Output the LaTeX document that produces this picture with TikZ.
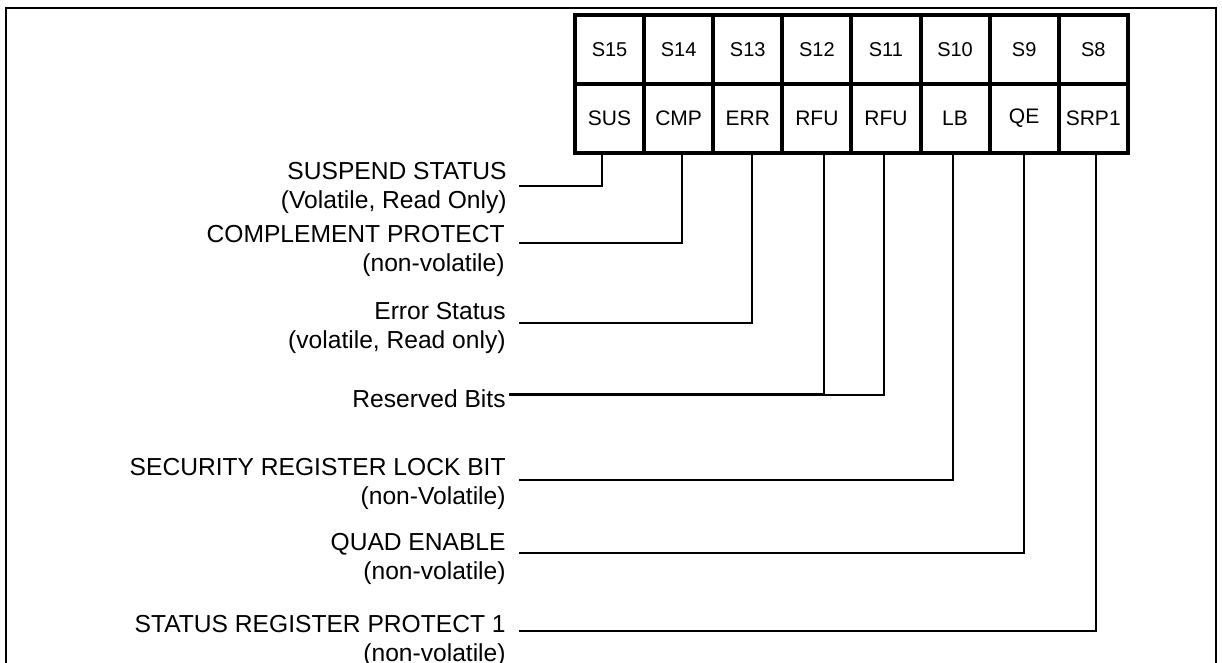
\documentclass[tikz,border=0pt]{standalone}
\usepackage{fontspec}
\setmainfont{Liberation Sans}
\begin{document}
\begin{tikzpicture}[x=0.5pt,y=0.5pt,yscale=-1,xscale=1,
  bitcell/.style={draw,line width=2pt,outer sep=0pt,inner sep=0pt,anchor=north west,minimum width=34.55pt,minimum height=34.5pt},
  bitnum/.style={bitcell,font=\fontsize{10}{12}\selectfont},
  bitname/.style={bitcell,font=\fontsize{10.5}{13}\selectfont},
  desc/.style={anchor=base east,inner sep=0pt,align=right,font=\fontsize{12.3}{14.5}\selectfont},
  link/.style={line width=1pt}]
\useasboundingbox (0,0) rectangle (1222,663);

%Shape: Rectangle [id:frame]
\draw [line width=0.75pt] (6,8) rectangle (1216,720) ;

% Bit numbers
\node[bitnum] (s15) at (575,15) {S15};
\node[bitnum] (s14) at (644.1,15) {S14};
\node[bitnum] (s13) at (713.2,15) {S13};
\node[bitnum] (s12) at (782.3,15) {S12};
\node[bitnum] (s11) at (851.4,15) {S11};
\node[bitnum] (s10) at (920.5,15) {S10};
\node[bitnum] (s9) at (989.6,15) {S9};
\node[bitnum] (s8) at (1058.7,15) {S8};
% Bit names
\node[bitname] (sus) at (575,84) {SUS};
\node[bitname] (cmp) at (644.1,84) {CMP};
\node[bitname] (err) at (713.2,84) {ERR};
\node[bitname] (rfua) at (782.3,84) {RFU};
\node[bitname] (rfub) at (851.4,84) {RFU};
\node[bitname] (lb) at (920.5,84) {LB};
\node[bitname] (qe) at (989.6,84) {QE};
\node[bitname] (srp) at (1058.7,84) {SRP1};

% Text Node (base = last line)
\node[desc] (dsus) at (507,209) {SUSPEND STATUS\\(Volatile, Read Only)};
% Text Node
\node[desc] (dcmp) at (505,272) {COMPLEMENT PROTECT\\(non-volatile)};
% Text Node
\node[desc] (derr) at (506,349) {Error Status\\(volatile, Read only)};
% Text Node
\node[desc] (dres) at (506,408) {Reserved Bits};
% Text Node
\node[desc] (dlb) at (506,504) {SECURITY REGISTER LOCK BIT\\(non-Volatile)};
% Text Node
\node[desc] (dqe) at (506,579) {QUAD ENABLE\\(non-volatile)};
% Text Node
\node[desc] (dsrp) at (506,661) {STATUS REGISTER PROTECT 1\\(non-volatile)};

% line starts
\coordinate (susin) at (519,186);
\coordinate (cmpin) at (519,243);
\coordinate (errin) at (519,323);
\coordinate (resin) at (509,395);
\coordinate (lbin) at (519,480);
\coordinate (qein) at (519,553);
\coordinate (srpin) at (519,631);

%Straight Lines
\draw[link] (susin) -| ([xshift=-3.8pt]sus.south) ;
\draw[link] (cmpin) -| ([xshift=1.5pt]cmp.south) ;
\draw[link] (errin) -| ([xshift=2pt]err.south) ;
\draw[link,line width=1.5pt] (resin) -- ([xshift=3.5pt]rfua.south |- resin) ;
\draw[link] ([xshift=3.5pt]rfua.south) |- ([xshift=-1pt]rfub.south |- resin) -- ([xshift=-1pt]rfub.south) ;
\draw[link] (lbin) -| ([xshift=-1pt]lb.south) ;
\draw[link] (qein) -| (qe.south) ;
\draw[link] (srpin) -| ([xshift=1.5pt]srp.south) ;

\end{tikzpicture}
\end{document}
